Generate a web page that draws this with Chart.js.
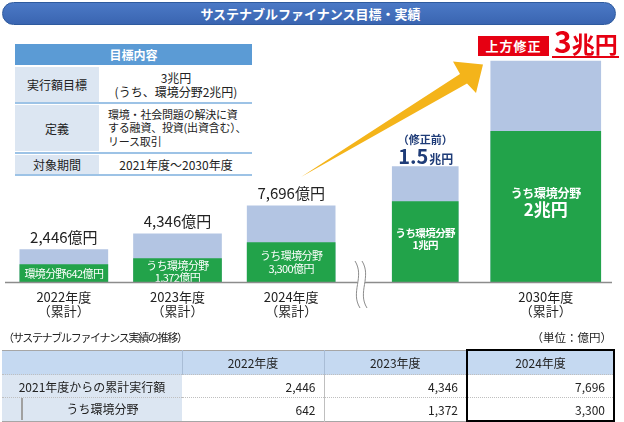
<!DOCTYPE html>
<html lang="ja">
<head>
<meta charset="UTF-8">
<title>サステナブルファイナンス目標・実績</title>
<script src="https://cdn.jsdelivr.net/npm/chart.js"></script>
<style>
    body {
        margin: 0;
        background: #fff;
        font-family: "Noto Sans CJK JP", "Noto Sans", sans-serif;
        color: #222;
    }
    #page {
        position: relative;
        width: 624px;
        height: 422px;
        overflow: hidden;
    }
    .abs { position: absolute; }
    .title-bar {
        left: 2px; top: 2px; width: 609px; height: 21px;
        border: 1px solid #2e5a9e;
        border-radius: 12px;
        background: linear-gradient(#4b79c6, #3a65b1);
        color: #fff;
        font-weight: bold;
        font-size: 13px;
        line-height: 21px;
        text-align: center;
        padding-left: 3px;
        box-sizing: content-box;
    }
    .ib-head {
        left: 15px; top: 44px; width: 237px; height: 21px;
        background: #5b9bd5;
        color: #fff; font-weight: bold; font-size: 12px;
        line-height: 21px; text-align: center;
    }
    .ib-l {
        left: 15px; width: 84px;
        background: #dce6f2;
        display: flex; align-items: center; justify-content: center;
        font-size: 12px;
    }
    .ib-r {
        left: 100px; width: 152px;
        display: flex; flex-direction: column; align-items: center; justify-content: center;
        font-size: 12px; line-height: 13.5px; white-space: nowrap;
    }
    .ib-r.def { font-size: 11px; letter-spacing: -0.2px; }
    .ib-line { left: 15px; width: 237px; height: 2px; background: #9dc3e6; }
    .caption { left: 3px; top: 329px; font-size: 11px; letter-spacing: -1.3px; line-height: 16px; }
    .unit { right: 12px; top: 329px; font-size: 11.5px; line-height: 16px; }
    .revise {
        left: 478px; top: 36px; width: 71px; height: 20px;
        background: #e60012; color: #fff;
        font-weight: bold; font-size: 13px; line-height: 20px;
        text-align: center; letter-spacing: 1px;
    }
    .goal {
        left: 554px; top: 24px; color: #e60012; font-weight: bold;
        line-height: 32px; white-space: nowrap;
    }
    .goal .n { font-size: 30px; }
    .goal .u { font-size: 23px; }
    .goal-line { left: 552px; top: 56px; width: 67px; height: 2px; background: #e60012; }
    #results {
        position: absolute; left: 2px; top: 349px; width: 612px;
        border-collapse: collapse; table-layout: fixed;
        font-size: 12px;
        border-bottom: 1px solid #a6a6a6;
    }
    #results th, #results td { padding: 0; white-space: nowrap; }
    #results th {
        background: #c5d9f1; font-weight: normal; height: 23px;
        border-top: 1px solid #a6a6a6;
        border-right: 1px solid #a9bdd6;
    }
    #results td { height: 22px; border-top: 1px dotted #bfbfbf; }
    #results td.v { text-align: right; padding-right: 8px; border-right: 1px solid #bfbfbf; }
    #results td.lab { background: #dce6f2; text-align: center; }
    #results td.sub { background: #dce6f2; padding-left: 19px; }
    #results td.sub div {
        height: 22px; line-height: 22px; text-align: center;
        border-left: 2px solid #a0a0a0;
    }
    #results .last { border-left: 2px solid #000 !important; border-right: 2px solid #000 !important; }
    #results th.last { border-top: 2px solid #000; }
    #results tr:last-child td.last { border-bottom: 2px solid #000; }
    canvas { position: absolute; }
</style>
</head>
<body>
<div id="page">
    <div class="abs title-bar">サステナブルファイナンス目標・実績</div>

    <div class="abs ib-head">目標内容</div>
    <div class="abs ib-l" style="top:67px;height:35px">実行額目標</div>
    <div class="abs ib-r" style="top:67px;height:35px"><span>3兆円</span><span>(うち、環境分野2兆円)</span></div>
    <div class="abs ib-line" style="top:102px"></div>
    <div class="abs ib-l" style="top:105px;height:46px">定義</div>
    <div class="abs ib-r def" style="top:105px;height:46px;align-items:flex-start;padding-left:8px;width:144px">
        <span>環境・社会問題の解決に資</span><span>する融資、投資(出資含む）、</span><span>リース取引</span>
    </div>
    <div class="abs ib-line" style="top:152px"></div>
    <div class="abs ib-l" style="top:155px;height:19px">対象期間</div>
    <div class="abs ib-r" style="top:155px;height:19px">2021年度～2030年度</div>
    <div class="abs ib-line" style="top:174px"></div>

    <canvas id="actualChart" width="341" height="173" style="left:7px;top:150px"></canvas>
    <canvas id="targetChart" width="241" height="283" style="left:365px;top:40px"></canvas>

    <svg class="abs" style="left:0;top:0" width="624" height="422">
        <line x1="5" y1="282.5" x2="612" y2="282.5" stroke="#8c8c8c" stroke-width="1.3"/>
        <path d="M358.5 261 C 368.5 277, 353.5 292, 363.5 308" stroke="#fff" stroke-width="7" fill="none"/>
        <path d="M355 261 C 365 277, 350 292, 360 308" stroke="#8c8c8c" stroke-width="1" fill="none"/>
        <path d="M362 261 C 372 277, 357 292, 367 308" stroke="#8c8c8c" stroke-width="1" fill="none"/>
        <polygon points="301,177 460,74 453,61.5 483,64.5 476,93 467,83.5" fill="#f4b41a"/>
    </svg>

    <div class="abs revise">上方修正</div>
    <div class="abs goal"><span class="n">3</span><span class="u">兆円</span></div>
    <div class="abs goal-line"></div>

    <div class="abs caption">（サステナブルファイナンス実績の推移）</div>
    <div class="abs unit">（単位：億円）</div>
    <table id="results">
        <colgroup><col style="width:180px"><col style="width:142px"><col style="width:143px"><col style="width:147px"></colgroup>
    </table>
</div>
<script>
    // 実績（億円）
    const actualYears = [['2022年度', '（累計）'], ['2023年度', '（累計）'], ['2024年度', '（累計）']];
    const actualTotal = [2446, 4346, 7696];
    const actualEnv = [642, 1372, 3300];

    // 目標（億円）: 修正前 1.5兆円 / 2030年度 3兆円
    const targetYears = [[], ['2030年度', '（累計）']];
    const targetTotal = [15000, 30000];
    const targetEnv = [10000, 20000];

    const FONT = '"Noto Sans CJK JP", "Noto Sans", sans-serif';
    const BLUE = '#b3c5e3';
    const GREEN = '#22a34a';
    const NAVY = '#1f3c78';
    Chart.defaults.font.family = FONT;
    Chart.defaults.color = '#222';

    function fmt(v) {
        return v.toLocaleString('en-US');
    }

    function text(ctx, str, x, y, font, color, spacing) {
        ctx.font = font;
        ctx.fillStyle = color;
        ctx.letterSpacing = spacing || '0px';
        ctx.textAlign = 'center';
        ctx.textBaseline = 'middle';
        ctx.fillText(str, x, y);
        ctx.letterSpacing = '0px';
    }

    // category labels under the baseline, placed on the x scale
    const yearLabels = {
        id: 'yearLabels',
        afterDraw(chart) {
            const ctx = chart.ctx;
            const xs = chart.scales.x;
            const bottom = chart.chartArea.bottom;
            ctx.save();
            chart.data.labels.forEach((lines, i) => {
                lines.forEach((t, k) => {
                    text(ctx, t, xs.getPixelForValue(i), bottom + 15 + k * 13.7, '13px ' + FONT, '#222');
                });
            });
            ctx.restore();
        }
    };

    const actualLabels = {
        id: 'actualLabels',
        afterDatasetsDraw(chart) {
            const ctx = chart.ctx;
            ctx.save();
            chart.getDatasetMeta(1).data.forEach((bar, i) => {
                ctx.font = '15px ' + FONT;
                ctx.fillStyle = '#222';
                ctx.textAlign = 'center';
                ctx.textBaseline = 'alphabetic';
                ctx.fillText(fmt(actualTotal[i]) + '億円', bar.x, bar.y - 7);
            });
            chart.getDatasetMeta(0).data.forEach((bar, i) => {
                const lines = i === 0
                    ? ['環境分野' + fmt(actualEnv[i]) + '億円']
                    : ['うち環境分野', fmt(actualEnv[i]) + '億円'];
                const mid = (bar.y + bar.base) / 2 + (i === 1 ? 1.5 : 0);
                lines.forEach((t, k) => {
                    text(ctx, t, bar.x, mid + (k - (lines.length - 1) / 2) * 12.5, '11px ' + FONT, '#fff', '-0.6px');
                });
            });
            ctx.restore();
        }
    };

    const targetLabels = {
        id: 'targetLabels',
        afterDatasetsDraw(chart) {
            const ctx = chart.ctx;
            ctx.save();
            const pre = chart.getDatasetMeta(1).data[0];
            const preEnv = chart.getDatasetMeta(0).data[0];
            const newEnv = chart.getDatasetMeta(2).data[1];

            text(ctx, '（修正前）', pre.x, pre.y - 27, 'bold 11px ' + FONT, NAVY);
            const num = String(targetTotal[0] / 10000);
            ctx.font = 'bold 20px ' + FONT;
            const w1 = ctx.measureText(num).width;
            ctx.font = 'bold 12px ' + FONT;
            const w2 = ctx.measureText('兆円').width;
            const x = pre.x - (w1 + w2) / 2;
            ctx.fillStyle = NAVY;
            ctx.textAlign = 'left';
            ctx.textBaseline = 'alphabetic';
            ctx.font = 'bold 20px ' + FONT;
            ctx.fillText(num, x, pre.y - 3);
            ctx.font = 'bold 12px ' + FONT;
            ctx.fillText('兆円', x + w1 + 1, pre.y - 3);

            let mid = (preEnv.y + preEnv.base) / 2 - 3;
            text(ctx, 'うち環境分野', preEnv.x, mid - 6.3, 'bold 10.5px ' + FONT, '#fff', '-0.6px');
            text(ctx, targetEnv[0] / 10000 + '兆円', preEnv.x, mid + 6.3, 'bold 10.5px ' + FONT, '#fff', '-0.6px');

            mid = (newEnv.y + newEnv.base) / 2;
            text(ctx, 'うち環境分野', newEnv.x, mid - 14, 'bold 12px ' + FONT, '#fff', '-0.3px');
            text(ctx, targetEnv[1] / 10000 + '兆円', newEnv.x, mid + 3, 'bold 17px ' + FONT, '#fff');
            ctx.restore();
        }
    };

    const commonOptions = (yMax, padTop) => ({
        responsive: false,
        animation: false,
        layout: { padding: { top: padTop, bottom: 40.5 } },
        datasets: { bar: { grouped: false } },
        scales: {
            x: { display: false },
            y: { display: false, min: -1500, max: yMax }
        },
        plugins: { legend: { display: false }, tooltip: { enabled: false } }
    });

    new Chart(document.getElementById('actualChart'), {
        type: 'bar',
        data: {
            labels: actualYears,
            datasets: [
                { label: 'うち環境分野', data: actualEnv, backgroundColor: GREEN, base: -1500, barThickness: 88, order: 1 },
                { label: '累計実行額', data: actualTotal, backgroundColor: BLUE, base: -1500, barThickness: 88, order: 2 }
            ]
        },
        options: commonOptions(10800, 30),
        plugins: [actualLabels, yearLabels]
    });

    const onlyAt = (arr, i) => arr.map((v, k) => (k === i ? v : null));

    new Chart(document.getElementById('targetChart'), {
        type: 'bar',
        data: {
            labels: targetYears,
            datasets: [
                { label: 'うち環境分野', data: onlyAt(targetEnv, 0), backgroundColor: GREEN, base: -1500, barThickness: 66, order: 1 },
                { label: '修正前', data: onlyAt(targetTotal, 0), backgroundColor: BLUE, base: -1500, barThickness: 66, order: 2 },
                { label: 'うち環境分野', data: onlyAt(targetEnv, 1), backgroundColor: GREEN, base: -1500, barThickness: 110, order: 1 },
                { label: '目標', data: onlyAt(targetTotal, 1), backgroundColor: BLUE, base: -1500, barThickness: 110, order: 2 }
            ]
        },
        options: commonOptions(33000, 0),
        plugins: [targetLabels, yearLabels]
    });

    // 実績の推移テーブル
    const table = document.getElementById('results');
    const head = table.insertRow();
    ['', ...actualYears.map(y => y[0])].forEach((t, i) => {
        const th = document.createElement('th');
        th.textContent = t;
        if (i === actualYears.length) th.className = 'last';
        head.appendChild(th);
    });
    [['2021年度からの累計実行額', actualTotal, 'lab'], ['うち環境分野', actualEnv, 'sub']].forEach(([name, vals, cls]) => {
        const tr = table.insertRow();
        const c = tr.insertCell();
        c.className = cls;
        if (cls === 'sub') {
            const d = document.createElement('div');
            d.textContent = name;
            c.appendChild(d);
        } else {
            c.textContent = name;
        }
        vals.forEach((v, i) => {
            const td = tr.insertCell();
            td.textContent = fmt(v);
            td.className = 'v' + (i === vals.length - 1 ? ' last' : '');
        });
    });
</script>
</body>
</html>
